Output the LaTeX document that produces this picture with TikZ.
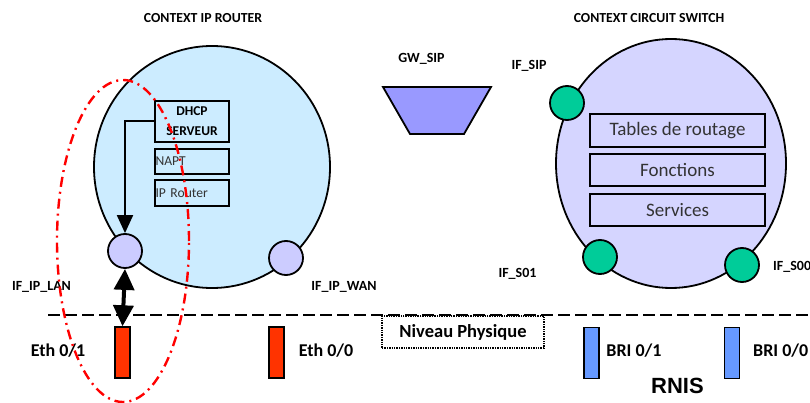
\documentclass[tikz,border=0pt]{standalone}
\usepackage{fontspec}
\setmainfont{Carlito}
\newfontfamily\arialfont{Liberation Sans}
\usetikzlibrary{shapes.geometric,arrows.meta}
\definecolor{ipblue}{HTML}{CCECFF}
\definecolor{cslav}{HTML}{D5D5FF}
\definecolor{ifpurple}{HTML}{CCCCFF}
\definecolor{ifgreen}{HTML}{00CC99}
\definecolor{gwblue}{HTML}{9999FF}
\definecolor{ethred}{HTML}{FF3300}
\definecolor{briblue}{HTML}{6699FF}
\definecolor{txtgray}{HTML}{333333}
\tikzset{
  title/.style={font=\bfseries\fontsize{13.8}{16}\selectfont, inner sep=0pt},
  lbl/.style={font=\bfseries\fontsize{14}{16}\selectfont, inner sep=0pt},
  biglbl/.style={font=\bfseries\fontsize{18}{21}\selectfont, inner sep=0pt},
  ctx/.style={ellipse, draw=black, line width=1.8pt, inner sep=0pt},
  ifc/.style={circle, draw=black, line width=1.8pt, minimum size=34pt, inner sep=0pt},
  ipbox/.style={draw=black, line width=1.4pt, fill=ipblue, inner sep=0pt},
  csbox/.style={draw=black, line width=1.4pt, fill=cslav, inner sep=0pt, minimum width=175pt, minimum height=32pt, font=\fontsize{19}{22}\selectfont, text=txtgray},
  portrect/.style={draw=black, line width=1.4pt, inner sep=0pt, minimum width=15pt, minimum height=51pt},
}
\begin{document}
\begin{tikzpicture}[x=1pt,y=-1pt]
\useasboundingbox (0,0) rectangle (810,403);
% titles
\node[title] (t1) at (203,18) {CONTEXT IP ROUTER};
\node[title] (t2) at (649,18) {CONTEXT CIRCUIT SWITCH};
% contexts
\node[ctx, fill=ipblue, minimum width=236pt, minimum height=242pt] (rc) at (212,167) {};
\node[ctx, fill=cslav, minimum width=230pt, minimum height=249pt] (cc) at (671,163.5) {};
% IP router boxes
\node[ipbox, minimum width=74pt, minimum height=41pt, align=center, font=\bfseries\fontsize{13.5}{20}\selectfont] (dhcp) at (192,121.5) {DHCP\\SERVEUR};
\node[ipbox, minimum width=74pt, minimum height=25pt, font=\fontsize{13.6}{15}\selectfont, text=txtgray, text width=73pt, align=left] (napt) at (192,161.5) {NAPT};
\node[ipbox, minimum width=74pt, minimum height=26pt, font=\fontsize{13.6}{15}\selectfont, text=txtgray, text width=73pt, align=left] (iprt) at (192,193) {IP Router};
% CS boxes
\node[csbox, minimum height=33pt] (tab) at (677.5,130.5) {Tables de routage};
\node[csbox] (fon) at (677.5,170) {Fonctions};
\node[csbox] (ser) at (677.5,210) {Services};
% interfaces
\node[ifc, fill=ifpurple] (lan) at (125,251) {};
\node[ifc, fill=ifpurple] (wan) at (286,258) {};
\node[ifc, fill=ifgreen] (sip) at (567,103) {};
\node[ifc, fill=ifgreen] (s01) at (600,257) {};
\node[ifc, fill=ifgreen] (s00) at (742,265) {};
% GW_SIP trapezoid
\coordinate (g1) at (383,87);
\coordinate (g2) at (491,87);
\coordinate (g3) at (464,134);
\coordinate (g4) at (410,134);
\draw[line width=1.8pt, fill=gwblue, line join=miter] (g1) -- (g2) -- (g3) -- (g4) -- cycle;
% labels
\node[lbl] (gwl) at (421.5,59) {GW\_SIP};
\node[lbl] (sipl) at (529,66) {IF\_SIP};
\node[lbl] (lanl) at (41.5,287) {IF\_IP\_LAN};
\node[lbl] (wanl) at (344,287) {IF\_IP\_WAN};
\node[lbl] (s01l) at (517.5,274) {IF\_S01};
\node[lbl, anchor=west] (s00l) at (773,267) {IF\_S00};
% physical level line
\node[draw=black, densely dotted, line width=1.4pt, minimum width=162pt, minimum height=32pt, inner sep=0pt, font=\bfseries\fontsize{18.5}{21}\selectfont] (np) at (463,332) {Niveau Physique};
\coordinate (dl) at (48,315);
\coordinate (dr) at (812,315);
\draw[line width=2.4pt, dash pattern=on 12pt off 5pt] (dl) -- (dr);
% ports
\node[portrect, fill=ethred] (eth1) at (122.5,352.5) {};
\node[portrect, fill=ethred] (eth0) at (276.5,352.5) {};
\node[portrect, fill=briblue] (bri1) at (591.5,353) {};
\node[portrect, fill=briblue] (bri0) at (732,353) {};
\node[biglbl] (eth1l) at (58,351) {Eth 0/1};
\node[biglbl] (eth0l) at (326,351) {Eth 0/0};
\node[biglbl] (bri1l) at (634,351) {BRI 0/1};
\node[biglbl, anchor=west] (bri0l) at (753,351) {BRI 0/0};
\node[font=\arialfont\bfseries\fontsize{22}{25}\selectfont, inner sep=0pt] (rnis) at (677.5,386) {RNIS};
% arrows
\draw[line width=2pt, -{Triangle[width=16pt,length=18pt]}] (dhcp.west) -| (lan.north);
\draw[line width=4pt, {Triangle[width=20pt,length=21pt]}-{Triangle[width=20pt,length=21pt]}] (lan.south) -- (eth1.north);
% red dash-dot ellipse
\node[ellipse, draw=red, line width=2.4pt, dash pattern=on 10pt off 5pt on 2pt off 5pt, minimum width=132pt, minimum height=322pt, inner sep=0pt] (zone) at (123,241) {};
\end{tikzpicture}
\end{document}
